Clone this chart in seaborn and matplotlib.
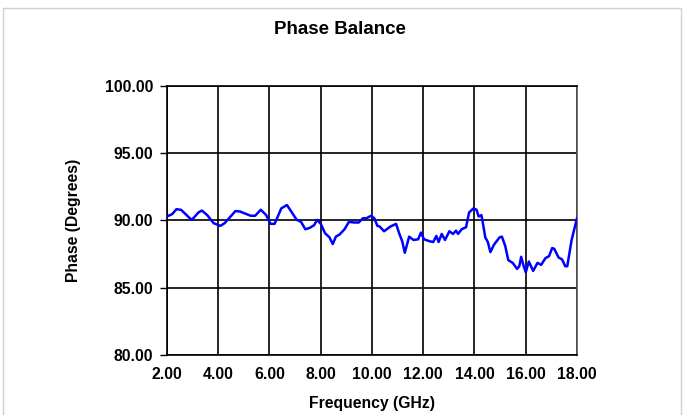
import numpy as np
import pandas as pd
import matplotlib
matplotlib.use("Agg")
import matplotlib.pyplot as plt
import seaborn as sns
from matplotlib.patches import Rectangle

# -------------------------------
# Data
# -------------------------------
freq_ghz = [2.00, 2.20, 2.37, 2.55, 2.89, 2.97, 3.23, 3.36, 3.57, 3.82,
            4.08, 4.25, 4.67, 4.85, 5.00, 5.27, 5.44, 5.66, 5.87, 6.04,
            6.20, 6.46, 6.68, 6.89, 7.06, 7.23, 7.40, 7.57, 7.74, 7.86,
            8.00, 8.17, 8.34, 8.47, 8.59, 8.73, 8.93, 9.10, 9.31, 9.48,
            9.65, 9.79, 9.96, 10.09, 10.21, 10.30, 10.47, 10.72, 10.94, 11.06,
            11.18, 11.28, 11.45, 11.62, 11.80, 11.91, 12.03, 12.26, 12.39, 12.51,
            12.60, 12.72, 12.85, 13.02, 13.16, 13.28, 13.36, 13.50, 13.67, 13.79,
            13.96, 14.08, 14.16, 14.27, 14.35, 14.42, 14.52, 14.62, 14.76, 14.98,
            15.07, 15.20, 15.32, 15.49, 15.66, 15.75, 15.82, 15.92, 16.00, 16.12,
            16.29, 16.46, 16.60, 16.77, 16.91, 17.03, 17.11, 17.28, 17.42, 17.54,
            17.62, 17.79, 18.00]
phase_deg = [90.30, 90.47, 90.84, 90.79, 90.17, 90.05, 90.60, 90.74, 90.40, 89.80,
             89.60, 89.80, 90.70, 90.67, 90.55, 90.35, 90.35, 90.80, 90.40, 89.75,
             89.75, 90.90, 91.15, 90.55, 90.05, 89.90, 89.35, 89.45, 89.65, 90.05,
             89.75, 89.05, 88.75, 88.25, 88.80, 88.95, 89.35, 89.90, 89.85, 89.85,
             90.17, 90.17, 90.35, 90.17, 89.60, 89.55, 89.20, 89.55, 89.75, 89.05,
             88.45, 87.60, 88.80, 88.55, 88.60, 89.10, 88.60, 88.45, 88.40, 88.85,
             88.40, 89.00, 88.55, 89.20, 89.00, 89.25, 89.00, 89.35, 89.50, 90.60,
             90.90, 90.80, 90.30, 90.40, 89.55, 88.75, 88.40, 87.65, 88.20, 88.75,
             88.80, 88.10, 87.05, 86.85, 86.40, 86.60, 87.30, 86.60, 86.15, 86.95,
             86.25, 86.85, 86.70, 87.20, 87.35, 87.95, 87.90, 87.25, 87.10, 86.60,
             86.60, 88.55, 90.17]

x_ticks = [2, 4, 6, 8, 10, 12, 14, 16, 18]
y_ticks = [80, 85, 90, 95, 100]

df = pd.DataFrame({"Frequency": freq_ghz, "Phase": phase_deg})

# -------------------------------
# Style
# -------------------------------
sns.set_style("white")
plt.rcParams["font.family"] = ["Liberation Sans", "DejaVu Sans"]
plt.rcParams["font.weight"] = "bold"
plt.rcParams["text.color"] = "black"
plt.rcParams["axes.labelcolor"] = "black"
plt.rcParams["xtick.color"] = "black"
plt.rcParams["ytick.color"] = "black"

fig = plt.figure(figsize=(6.83, 4.15), dpi=100)
ax = fig.add_axes([0.2445, 0.1446, 0.6003, 0.6482])

# light chart frame like the spreadsheet border
fig.patches.append(Rectangle((0.004, -0.01), 0.993, 0.99, transform=fig.transFigure,
                             fill=False, edgecolor="#d0d0d0", linewidth=1.0))

sns.lineplot(data=df, x="Frequency", y="Phase", ax=ax,
             color="#0000FF", linewidth=1.8, zorder=3)

ax.set_xlim(2, 18)
ax.set_ylim(80, 100)
ax.set_xticks(x_ticks)
ax.set_yticks(y_ticks)
ax.set_xticklabels([f"{v:.2f}" for v in x_ticks], fontsize=11.3, fontweight="bold")
ax.set_yticklabels([f"{v:.2f}" for v in y_ticks], fontsize=11.3, fontweight="bold")
ax.grid(True, color="black", linewidth=1.2)
ax.set_axisbelow(True)
for s in ax.spines.values():
    s.set_visible(True)
    s.set_color("black")
    s.set_linewidth(1.2)
ax.spines["right"].set_color("#555555")
ax.tick_params(axis="y", direction="out", length=5, width=1, left=True, pad=5)
ax.tick_params(axis="x", direction="out", length=0, pad=9)

ax.set_xlabel("Frequency (GHz)", fontsize=11.3, fontweight="bold", labelpad=10)
ax.set_ylabel("Phase (Degrees)", fontsize=11.3, fontweight="bold", labelpad=17)
fig.text(0.497, 0.928, "Phase Balance", ha="center", va="center",
         fontsize=13.5, fontweight="bold")

fig.savefig("out.png", dpi=100)
